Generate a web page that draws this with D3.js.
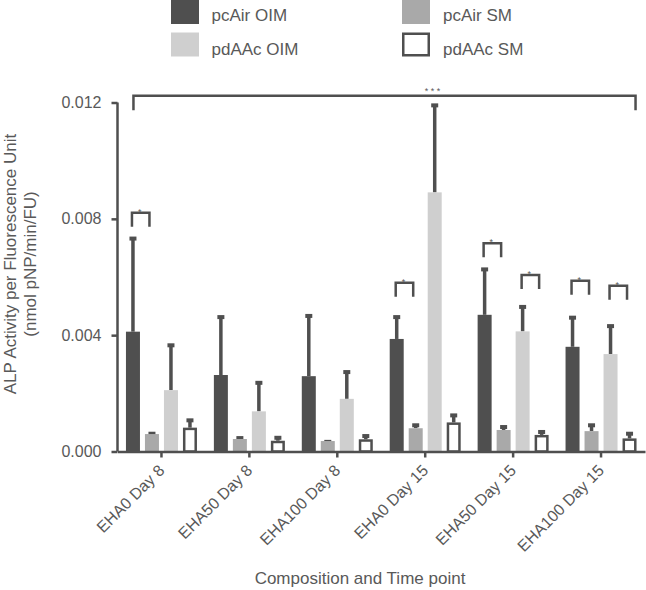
<!DOCTYPE html>
<html><head><meta charset="utf-8">
<script src="https://cdn.jsdelivr.net/npm/d3@7"></script>
<style>body{margin:0;background:#fff}svg{display:block}text{font-family:"Liberation Sans",Arial,Helvetica,sans-serif;fill:#595959}</style>
</head><body>
<script>
const categories = ["EHA0 Day 8","EHA50 Day 8","EHA100 Day 8","EHA0 Day 15","EHA50 Day 15","EHA100 Day 15"];
const seriesNames = ["pcAir OIM","pcAir SM","pdAAc OIM","pdAAc SM"];
const pcAirOIM      = [0.00412,0.00263,0.00259,0.00387,0.00470,0.00360];
const pcAirOIMErr   = [0.00739,0.00469,0.00473,0.00469,0.00633,0.00467];
const pcAirSM       = [0.00060,0.00043,0.00036,0.00080,0.00074,0.00070];
const pcAirSMErr    = [0.00068,0.00053,0.00040,0.00097,0.00091,0.00097];
const pdAAcOIM      = [0.00211,0.00138,0.00181,0.00891,0.00413,0.00335];
const pdAAcOIMErr   = [0.00372,0.00243,0.00280,0.01197,0.00504,0.00438];
const pdAAcSM       = [0.00082,0.00037,0.00042,0.00100,0.00057,0.00045];
const pdAAcSMErr    = [0.00114,0.00054,0.00060,0.00131,0.00074,0.00068];
const yTicks = [0,0.004,0.008,0.012];
// significance brackets: group index, first series index, bracket height, label
const sigGroup  = [0,3,4,4,5,5];
const sigSeries = [0,0,0,2,0,2];
const sigValue  = [0.00821,0.00580,0.00716,0.00607,0.00587,0.00570];
const sigLabel  = ["*","*","*","*","*","*"];
const overallValue = 0.01223;
const overallLabel = "* * *";

const values = [pcAirOIM,pcAirSM,pdAAcOIM,pdAAcSM];
const errs = [pcAirOIMErr,pcAirSMErr,pdAAcOIMErr,pdAAcSMErr];
const fills = ["#4f4f4f","#a9a9a9","#cfcfcf","#ffffff"];
const dark = "#4f4f4f";

const W=646,H=590;
const svg=d3.select("body").append("svg").attr("width",W).attr("height",H);
const x0=d3.scaleBand().domain(categories).range([117.5,645]).padding(0);
const x1=d3.scaleBand().domain(d3.range(4)).range([-38,38]).paddingInner(5/19).paddingOuter(5/38);
const y=d3.scaleLinear().domain([0,0.012]).range([451.5,102.5]);
const cx=(g,s)=>x0(categories[g])+x0.bandwidth()/2+x1(s)+x1.bandwidth()/2;

// bars
for(let s=0;s<4;s++){
  categories.forEach((c,g)=>{
    const bx=x0(c)+x0.bandwidth()/2+x1(s);
    const v=values[s][g];
    svg.append("line").attr("x1",cx(g,s)).attr("x2",cx(g,s)).attr("y1",y(v)).attr("y2",y(errs[s][g])+2)
      .attr("stroke",dark).attr("stroke-width",3.5);
    svg.append("rect").attr("x",cx(g,s)-3.5).attr("y",y(errs[s][g])).attr("width",7).attr("height",4).attr("fill",dark);
    if(s===3){
      svg.append("rect").attr("x",bx+1.25).attr("y",y(v)+1.25).attr("width",x1.bandwidth()-2.5).attr("height",y(0)-y(v)-1.25)
        .attr("fill","#fff").attr("stroke",dark).attr("stroke-width",2.5);
    } else {
      svg.append("rect").attr("x",bx).attr("y",y(v)).attr("width",x1.bandwidth()).attr("height",y(0)-y(v)).attr("fill",fills[s]);
    }
  });
}

// axes
const ya=svg.append("g").attr("transform","translate(117.5,0)")
  .call(d3.axisLeft(y).tickValues(yTicks).tickFormat(d3.format(".3f")).tickSize(6).tickPadding(10));
ya.select(".domain").attr("stroke",dark).attr("stroke-width",2.5).attr("d","M0,"+y(0.012)+"V"+y(0));
ya.selectAll(".tick line").attr("stroke",dark).attr("stroke-width",2.5);
ya.selectAll(".tick text").style("font-size","16px").attr("fill","#595959").style("font-family",'"Liberation Sans",Arial,sans-serif');

const xa=svg.append("g").attr("transform","translate(0,451.5)")
  .call(d3.axisBottom(x0).tickSize(6).tickSizeOuter(0));
xa.select(".domain").attr("stroke",dark).attr("stroke-width",2.5);
xa.selectAll(".tick line").attr("stroke",dark).attr("stroke-width",2.5);
xa.selectAll(".tick text").attr("text-anchor","end").attr("dy",null).attr("y",null)
  .attr("transform","translate(4,20) rotate(-45)")
  .style("font-size","16px").attr("fill","#595959").style("font-family",'"Liberation Sans",Arial,sans-serif');

// significance brackets
sigGroup.forEach((g,i)=>{
  const s=sigSeries[i];
  const xa1=cx(g,s)-1, xb=cx(g,s+1)-2.5, yt=y(sigValue[i]);
  svg.append("path").attr("d",`M${xa1},${yt+14}V${yt}H${xb}V${yt+14}`)
    .attr("fill","none").attr("stroke",dark).attr("stroke-width",2.5);
  svg.append("text").attr("x",(xa1+xb)/2-1).attr("y",yt+2).attr("text-anchor","middle")
    .style("font-size","9px").attr("fill","#777").text(sigLabel[i]);
});
{
  const xa1=cx(0,0)+0.5, xb=cx(5,3)+6, yt=y(overallValue);
  svg.append("path").attr("d",`M${xa1},${yt+14.5}V${yt}H${xb}V${yt+14.5}`)
    .attr("fill","none").attr("stroke",dark).attr("stroke-width",2.5);
  svg.append("text").attr("x",(xa1+xb)/2+48).attr("y",yt-2).attr("text-anchor","middle")
    .style("font-size","9px").attr("fill","#777").text(overallLabel);
}

// axis titles
svg.append("text").attr("x",360).attr("y",584).attr("text-anchor","middle").style("font-size","17px").text("Composition and Time point");
const yt=svg.append("text").attr("transform","translate(0,264) rotate(-90)").attr("text-anchor","middle").style("font-size","17px");
yt.append("tspan").attr("x",0).attr("y",16).text("ALP Activity per Fluorescence Unit");
yt.append("tspan").attr("x",0).attr("y",36).text("(nmol pNP/min/FU)");

// legend
const legX=[171,402], legTX=[211.5,443], legY=[0,32.5], legTY=[21,54.5];
const legOrder=[[0,0],[1,0],[0,1],[1,1]];
seriesNames.forEach((n,s)=>{
  const [c,r]=legOrder[s];
  if(s===3){
    svg.append("rect").attr("x",legX[c]+1.25).attr("y",legY[r]+1.25).attr("width",25.5).attr("height",21.5)
      .attr("fill","#fff").attr("stroke",dark).attr("stroke-width",2.5);
  } else {
    svg.append("rect").attr("x",legX[c]).attr("y",legY[r]).attr("width",28).attr("height",24).attr("fill",fills[s]);
  }
  svg.append("text").attr("x",legTX[c]).attr("y",legTY[r]).style("font-size","17px").text(n);
});
</script>
</body></html>
